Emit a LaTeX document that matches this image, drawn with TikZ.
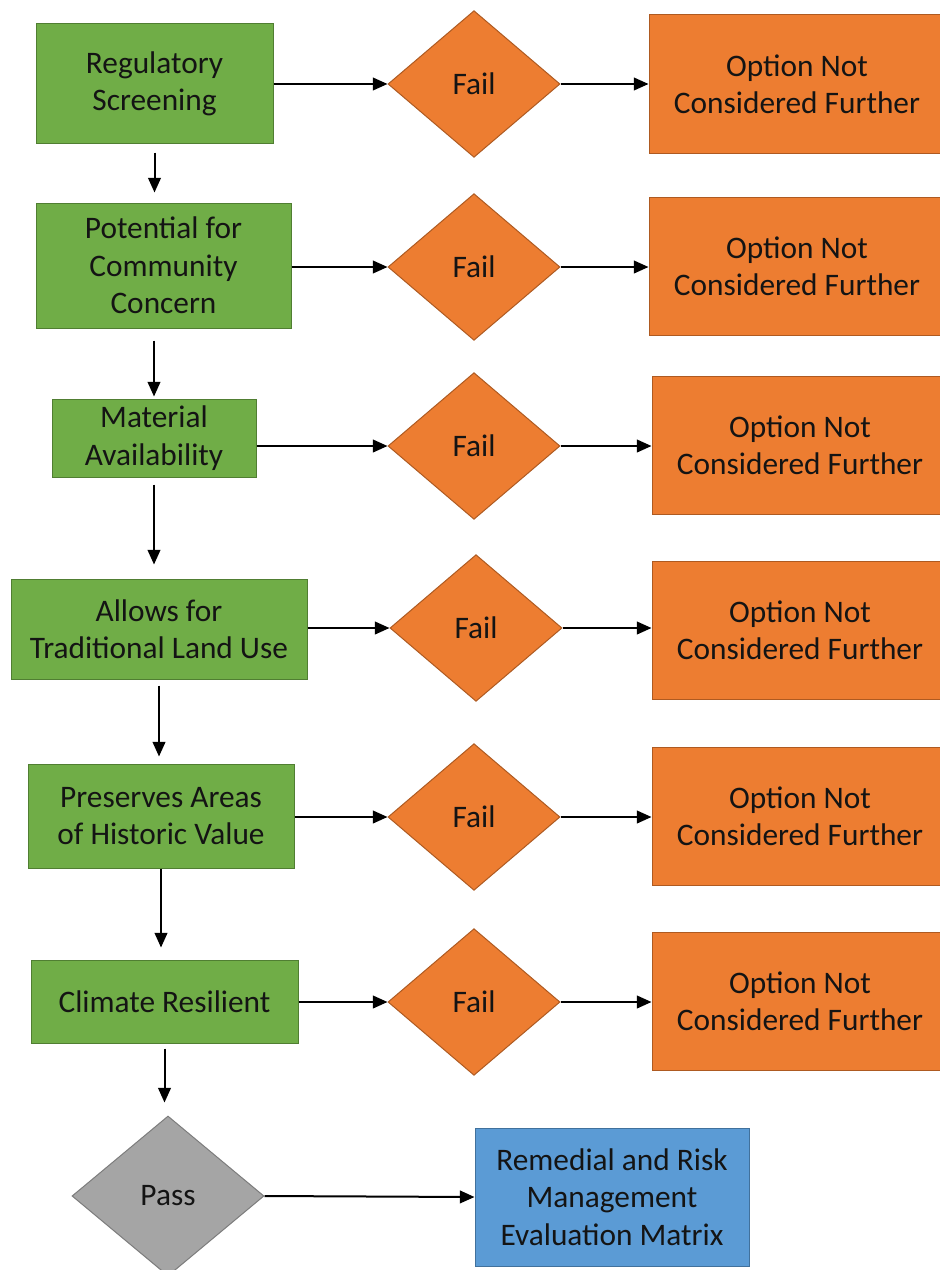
\documentclass[tikz,border=0pt]{standalone}
\usepackage{fontspec}
\setmainfont{Carlito}
\usepackage{tikz}
\usetikzlibrary{positioning}
\usetikzlibrary{shapes.geometric}
\usetikzlibrary{arrows.meta}
\definecolor{critgreen}{HTML}{70AD47}
\definecolor{critgreenline}{HTML}{507E32}
\definecolor{failorange}{HTML}{ED7D31}
\definecolor{failorangeline}{HTML}{AE5A21}
\definecolor{passgray}{HTML}{A5A5A5}
\definecolor{passgrayline}{HTML}{7C7C7C}
\definecolor{matrixblue}{HTML}{5B9BD5}
\definecolor{matrixblueline}{HTML}{41719C}
\colorlet{txtcol}{black!92}
\tikzset{>={Triangle[length=11pt,width=9.5pt]}}
\tikzset{
  crit/.style={draw=critgreenline, fill=critgreen, line width=0.75pt,
    text=txtcol, align=center, inner sep=2pt},
  faildia/.style={diamond, draw=failorangeline, fill=failorange, line width=0.75pt,
    text=txtcol, inner sep=0pt, minimum width=129pt, minimum height=110pt},
  dropped/.style={draw=failorangeline, fill=failorange, line width=0.75pt,
    text=txtcol, align=center, minimum width=222pt, minimum height=103.5pt},
  flow/.style={->, line width=1.5pt, black}
}

\begin{document}
\begin{tikzpicture}[x=0.75pt, y=-0.75pt, font=\fontsize{23.5}{28}\selectfont]
\useasboundingbox (0,0) rectangle (939,1270);

% Screening criteria
\node[crit, minimum width=177.75pt, minimum height=89.25pt] (reg) at (154.5,83.5) {Regulatory\\Screening};
\node[crit, minimum width=191.25pt, minimum height=93.75pt] (comm) at (163.5,265.5) {Potential for\\Community\\Concern};
\node[crit, minimum width=153pt, minimum height=58.5pt] (mat) at (154,438) {Material\\Availability};
\node[crit, minimum width=222pt, minimum height=75pt] (land) at (159,629) {Allows for\\Traditional Land Use};
\node[crit, minimum width=199.5pt, minimum height=78pt] (hist) at (161,816) {Preserves Areas\\of Historic Value};
\node[crit, minimum width=200.25pt, minimum height=62.25pt] (clim) at (164.5,1001.5) {Climate Resilient};

% Fail decisions
\node[faildia] (fail1) at (474,84) {Fail};
\node[faildia] (fail2) at (474,267) {Fail};
\node[faildia] (fail3) at (474,446) {Fail};
\node[faildia] (fail4) at (476,628) {Fail};
\node[faildia] (fail5) at (474,817) {Fail};
\node[faildia] (fail6) at (474,1002) {Fail};

% Dropped options
\node[dropped] (out1) at (797,84) {Option Not\\Considered Further};
\node[dropped] (out2) at (797,266) {Option Not\\Considered Further};
\node[dropped] (out3) at (800,445) {Option Not\\Considered Further};
\node[dropped] (out4) at (800,630) {Option Not\\Considered Further};
\node[dropped] (out5) at (800,816) {Option Not\\Considered Further};
\node[dropped] (out6) at (800,1001) {Option Not\\Considered Further};

% Pass and matrix
\node[diamond, draw=passgrayline, fill=passgray, line width=0.75pt, text=txtcol,
  inner sep=0pt, minimum width=144pt, minimum height=120pt] (pass) at (168,1196) {Pass};
\node[draw=matrixblueline, fill=matrixblue, line width=0.75pt, text=txtcol, align=center,
  minimum width=205.5pt, minimum height=103.5pt] (matrix) at (612,1197) {Remedial and Risk\\Management\\Evaluation Matrix};

% Down the criteria
\draw[flow, shorten <=6.75pt, shorten >=7.5pt] (reg.south) -- (reg.south |- comm.north);
\draw[flow, shorten <=9pt, shorten >=1.5pt] (comm.south -| mat.north) -- (mat.north);
\draw[flow, shorten <=5.25pt, shorten >=10.5pt] (mat.south) -- (mat.south |- land.north);
\draw[flow, shorten <=4.5pt, shorten >=5.25pt] (land.south) -- (land.south |- hist.north);
\draw[flow, shorten >=9pt] (hist.south) -- (hist.south |- clim.north);
\draw[flow, shorten <=3.75pt, shorten >=9.75pt] (clim.south) -- (clim.south |- pass.north);

% To the fail decisions
\draw[flow] (reg.east |- fail1.west) -- (fail1.west);
\draw[flow] (comm.east |- fail2.west) -- (fail2.west);
\draw[flow] (mat.east |- fail3.west) -- (fail3.west);
\draw[flow] (land.east |- fail4.west) -- (fail4.west);
\draw[flow] (hist.east |- fail5.west) -- (fail5.west);
\draw[flow] (clim.east |- fail6.west) -- (fail6.west);

% Fail to dropped
\draw[flow] (fail1.east) -- (fail1.east -| out1.west);
\draw[flow] (fail2.east) -- (fail2.east -| out2.west);
\draw[flow] (fail3.east) -- (fail3.east -| out3.west);
\draw[flow] (fail4.east) -- (fail4.east -| out4.west);
\draw[flow] (fail5.east) -- (fail5.east -| out5.west);
\draw[flow] (fail6.east) -- (fail6.east -| out6.west);

% Pass to matrix
\draw[flow] (pass.east) -- (matrix.west);

\end{tikzpicture}
\end{document}
